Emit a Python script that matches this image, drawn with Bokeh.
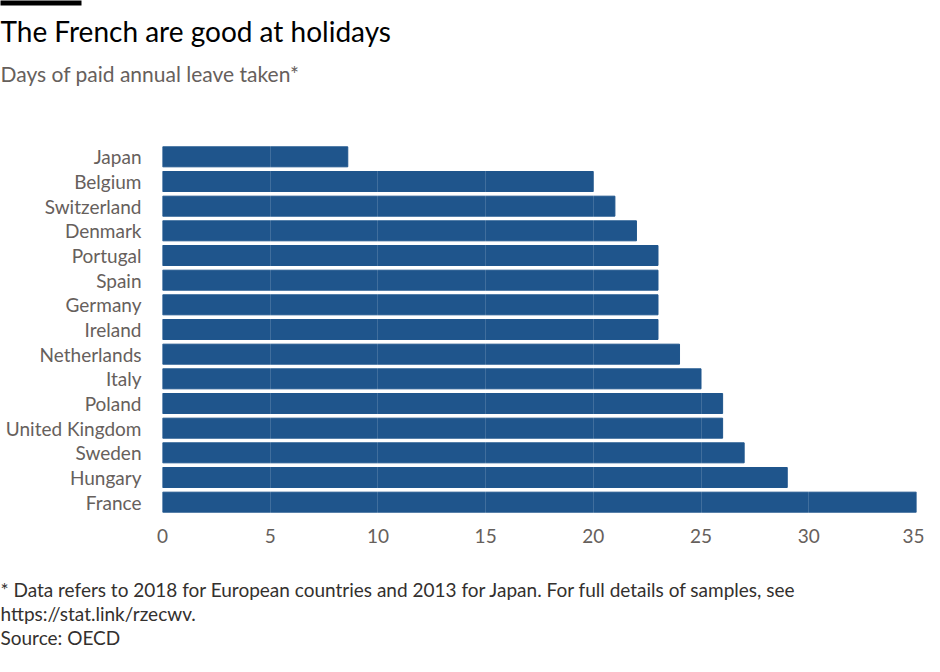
from bokeh.plotting import figure
from bokeh.models import Title, FactorRange, FixedTicker
from bokeh.embed import file_html
from bokeh.resources import INLINE

# Days of paid annual leave taken, top to bottom as in the chart
countries = [
    "Japan", "Belgium", "Switzerland", "Denmark", "Portugal", "Spain",
    "Germany", "Ireland", "Netherlands", "Italy", "Poland",
    "United Kingdom", "Sweden", "Hungary", "France",
]
days = [8.6, 20, 21, 22, 23, 23, 23, 23, 24, 25, 26, 26, 27, 29, 35]
x_ticks = [0, 5, 10, 15, 20, 25, 30, 35]

title_text = "The French are good at holidays"
subtitle_text = "Days of paid annual leave taken*"
notes = [
    "* Data refers to 2018 for European countries and 2013 for Japan. For full details of samples, see",
    "https://stat.link/rzecwv.",
    "Source: OECD",
]

FONT = "Lato"
BAR = "#1f558c"
GREY = "#66605c"
LEFT = 162

p = figure(
    width=924,
    height=656,
    y_range=FactorRange(*reversed(countries)),
    x_range=(0, 35),
    output_backend="svg",
    toolbar_location=None,
    min_border_left=LEFT,
    min_border_right=8,
    min_border_top=0,
    min_border_bottom=0,
    background_fill_color="white",
    border_fill_color="white",
    outline_line_color=None,
)

p.hbar(y=countries, right=days, height=0.81, color=BAR)

# axes
p.xaxis.ticker = FixedTicker(ticks=x_ticks)
for ax in (p.xaxis[0], p.yaxis[0]):
    ax.axis_line_color = None
    ax.major_tick_line_color = None
    ax.minor_tick_line_color = None
    ax.major_tick_out = 0
    ax.major_tick_in = 0
    ax.minor_tick_out = 0
    ax.major_label_text_font = FONT
    ax.major_label_text_font_size = "19px"
    ax.major_label_text_color = GREY
p.yaxis.major_label_standoff = 21
p.xaxis.major_label_standoff = 14

# faint gridlines drawn over the bars
p.ygrid.grid_line_color = None
p.xgrid.grid_line_color = "white"
p.xgrid.grid_line_alpha = 0.15
p.xgrid.level = "overlay"


def title(text, size, color, standoff, align="bottom"):
    return Title(text=text, text_font=FONT, text_font_size=size, text_font_style="normal",
                 text_color=color, offset=-LEFT, standoff=standoff, vertical_align=align)


# header (first added sits nearest the frame)
p.add_layout(title(" ", "10px", "white", 34.6), "above")
p.add_layout(title(subtitle_text, "21px", GREY, 14.8, "top"), "above")
p.add_layout(title(title_text, "28px", "#000000", 10.4), "above")
# small black bar at the very top left
bar = title("\u2003" * 27, "4px", "black", 0, "top")
bar.background_fill_color = "black"
p.add_layout(bar, "above")

# footer
p.add_layout(title(" ", "10px", "white", 17.3), "below")
for line in notes:
    p.add_layout(title(line, "19px", "#33302e", -1.3), "below")
p.add_layout(title(" ", "10px", "white", -6), "below")

open("out.html", "w").write(file_html(p, INLINE))
